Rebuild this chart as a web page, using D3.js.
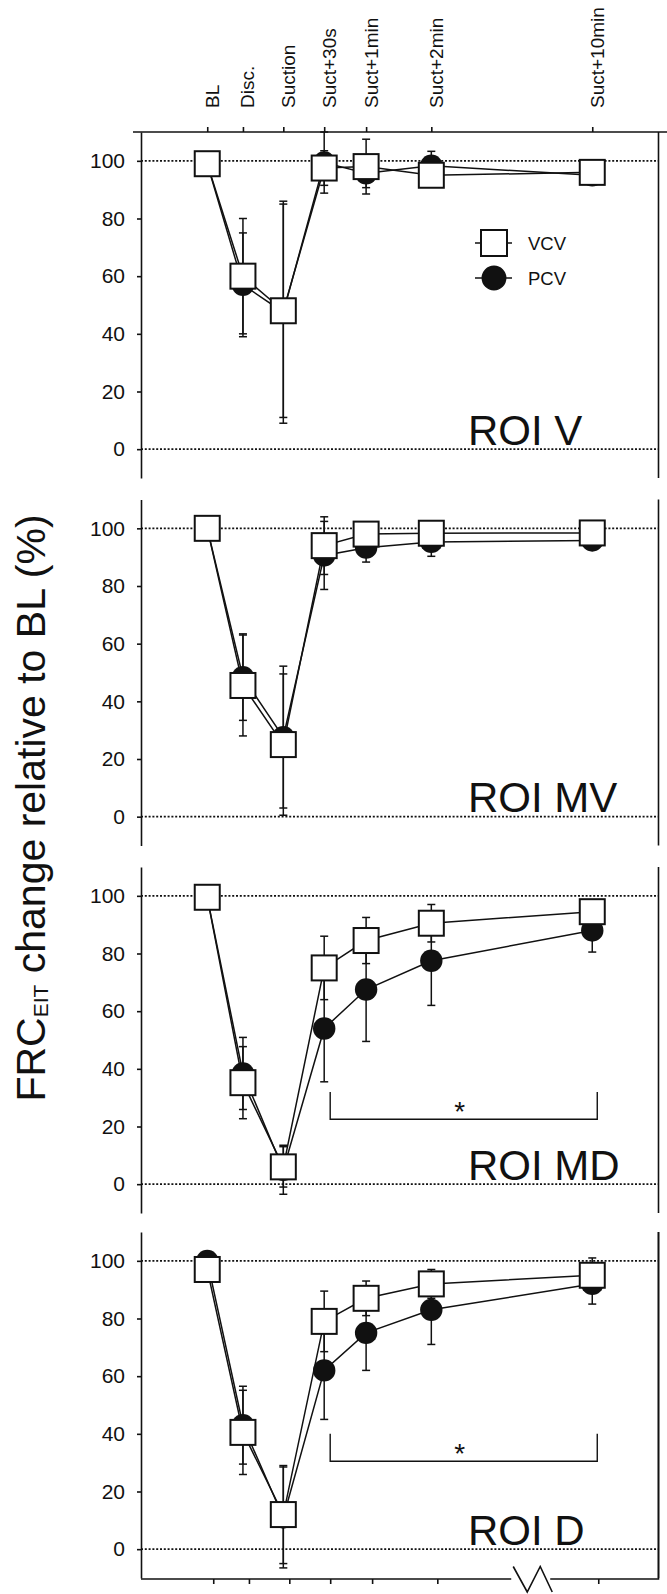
<!DOCTYPE html>
<html>
<head>
<meta charset="utf-8">
<script src="https://cdnjs.cloudflare.com/ajax/libs/d3/7.8.5/d3.min.js"></script>
<style>
  body { margin: 0; background: #fff; }
  svg { display: block; font-family: "Liberation Sans", Arial, Helvetica, sans-serif; }
</style>
</head>
<body>
<svg id="chart"></svg>
<script>
const categories = ["BL", "Disc.", "Suction", "Suct+30s", "Suct+1min", "Suct+2min", "Suct+10min"];
// time axis is broken, so each category sits at its own slot value
const xSlots = [12.8, 19.7, 27.5, 35.4, 43.5, 56.1, 87.2];
const yTicks = [0, 20, 40, 60, 80, 100];
const regions = ["ROI V", "ROI MV", "ROI MD", "ROI D"];

const vcvMean = [
    [99, 60, 48, 97.5, 98, 95, 96],
    [100, 45.5, 25, 94, 98, 98.3, 98.4],
    [99.5, 35.2, 6, 75, 84.5, 90.5, 94.5],
    [97, 40.5, 12, 79, 87, 92, 95]
];
const vcvSd = [
    [0, 20, 37, 6, 9.5, 3, 2],
    [0, 17.5, 24.5, 10, 4, 3, 2],
    [0, 12.5, 7, 11, 8, 6.5, 3],
    [0, 14.6, 17, 10.5, 6, 5, 6]
];
const pcvMean = [
    [99, 57, 47.5, 99.4, 95.7, 98.3, 95],
    [100, 48.4, 27.6, 90.6, 93.3, 95.3, 95.8],
    [99.5, 38.4, 5, 54, 67.5, 77.5, 88],
    [100, 43, 11, 62, 75, 83, 92]
];
const pcvSd = [
    [0, 18, 38.5, 10.6, 5, 5, 2],
    [0, 15, 24.6, 11.8, 5, 5, 2],
    [0, 12.5, 8.5, 18.5, 18, 15.5, 7.5],
    [0, 13.5, 17.5, 17, 13, 12, 7]
];
// significance brackets: [from category, to category, top value, bottom value]
const brackets = [null, null, [3, 6, 32, 22.5], [3, 6, 40, 30.5]];

const width = 667;
const height = 1594;
const panelTops = [132, 499.5, 867, 1232];
const panelHeight = 346;
const ink = "#111";

const svg = d3.select("#chart")
    .attr("width", width)
    .attr("height", height);

svg.append("rect").attr("width", width).attr("height", height).attr("fill", "#fff");

const xScale = d3.scaleLinear()
    .domain([0, 100])
    .range([141, 658.5]);

const styleAxis = sel => {
    sel.attr("font-family", null).attr("font-size", 21);
    sel.selectAll("path, line").attr("stroke", ink).attr("stroke-width", 1.6);
    sel.selectAll("text").attr("fill", ink);
};

regions.forEach((name, p) => {
    const top = panelTops[p];
    const yScale = d3.scaleLinear()
        .domain([-10, 110])
        .range([top + panelHeight, top]);
    const g = svg.append("g");

    g.selectAll(".ref")
        .data([0, 100])
        .enter()
        .append("line")
        .attr("x1", xScale(0))
        .attr("x2", xScale(100))
        .attr("y1", d => yScale(d))
        .attr("y2", d => yScale(d))
        .attr("stroke", ink)
        .attr("stroke-width", 1.6)
        .attr("stroke-dasharray", "2,1.8");

    g.append("g")
        .attr("transform", `translate(${xScale(0)},0)`)
        .call(d3.axisLeft(yScale).tickValues(yTicks).tickSize(4).tickSizeOuter(0).tickPadding(12))
        .call(styleAxis);

    g.append("line")
        .attr("x1", xScale(100)).attr("x2", xScale(100))
        .attr("y1", yScale(110)).attr("y2", yScale(-10))
        .attr("stroke", ink)
        .attr("stroke-width", 1.6);

    const series = [
        { key: "PCV", mean: pcvMean[p], sd: pcvSd[p] },
        { key: "VCV", mean: vcvMean[p], sd: vcvSd[p] }
    ];

    const line = d3.line()
        .x((d, i) => xScale(xSlots[i]))
        .y(d => yScale(d));

    g.selectAll(".trend")
        .data(series)
        .enter()
        .append("path")
        .attr("d", s => line(s.mean))
        .attr("fill", "none")
        .attr("stroke", ink)
        .attr("stroke-width", 1.5);

    const bars = series.flatMap(s => s.mean.map((m, i) => ({ x: xSlots[i], lo: m - s.sd[i], hi: m + s.sd[i] })))
        .filter(d => d.hi > d.lo);

    const eb = g.selectAll(".eb")
        .data(bars)
        .enter()
        .append("g")
        .attr("stroke", ink)
        .attr("stroke-width", 1.5);
    eb.append("line")
        .attr("x1", d => xScale(d.x)).attr("x2", d => xScale(d.x))
        .attr("y1", d => yScale(d.lo)).attr("y2", d => yScale(d.hi));
    eb.selectAll(".cap")
        .data(d => [d.lo, d.hi].map(v => ({ x: d.x, v: v })))
        .enter()
        .append("line")
        .attr("x1", d => xScale(d.x) - 4).attr("x2", d => xScale(d.x) + 4)
        .attr("y1", d => yScale(d.v)).attr("y2", d => yScale(d.v));

    g.selectAll(".pcv")
        .data(pcvMean[p])
        .enter()
        .append("circle")
        .attr("cx", (d, i) => xScale(xSlots[i]))
        .attr("cy", d => yScale(d))
        .attr("r", 11.2)
        .attr("fill", ink);

    g.selectAll(".vcv")
        .data(vcvMean[p])
        .enter()
        .append("rect")
        .attr("x", (d, i) => xScale(xSlots[i]) - 12.5)
        .attr("y", d => yScale(d) - 12.5)
        .attr("width", 25)
        .attr("height", 25)
        .attr("fill", "#fff")
        .attr("stroke", ink)
        .attr("stroke-width", 2);

    g.append("text")
        .attr("x", 468)
        .attr("y", yScale(0) - 4.5)
        .attr("font-size", 42)
        .attr("fill", ink)
        .text(name);

    const br = brackets[p];
    if (br) {
        const x0 = xScale(xSlots[br[0]]) + 6;
        const x1 = xScale(xSlots[br[1]]) + 5;
        g.append("path")
            .attr("d", `M${x0},${yScale(br[2])}V${yScale(br[3])}H${x1}V${yScale(br[2])}`)
            .attr("fill", "none")
            .attr("stroke", ink)
            .attr("stroke-width", 1.4);
        g.append("text")
            .attr("x", (x0 + x1) / 2 - 4)
            .attr("y", yScale((br[2] + br[3]) / 2) + 15)
            .attr("text-anchor", "middle")
            .attr("font-size", 28)
            .attr("fill", ink)
            .text("*");
    }

    if (p === 0) {
        const topAxis = g.append("g")
            .attr("transform", `translate(0,${top})`)
            .call(d3.axisTop(xScale).tickValues(xSlots).tickFormat((d, i) => categories[i]).tickSize(5).tickSizeOuter(0))
            .call(styleAxis);
        topAxis.select(".domain").remove();
        topAxis.selectAll("text")
            .attr("x", 0)
            .attr("y", 0)
            .attr("dy", null)
            .attr("font-size", 19)
            .attr("text-anchor", "start")
            .attr("transform", `translate(11,${108 - top}) rotate(-90)`);
        g.append("line")
            .attr("x1", 133).attr("x2", width)
            .attr("y1", top).attr("y2", top)
            .attr("stroke", ink)
            .attr("stroke-width", 1.6);

        const legend = g.append("g").attr("stroke", ink).attr("stroke-width", 1.5);
        [243, 278].forEach(ly => {
            legend.append("line").attr("x1", 475).attr("x2", 512).attr("y1", ly).attr("y2", ly);
        });
        legend.append("rect")
            .attr("x", 481).attr("y", 230).attr("width", 26).attr("height", 26)
            .attr("fill", "#fff").attr("stroke-width", 2);
        legend.append("circle")
            .attr("cx", 494).attr("cy", 278).attr("r", 11.7)
            .attr("fill", ink);
        g.selectAll(".legtext")
            .data([["VCV", 243], ["PCV", 278]])
            .enter()
            .append("text")
            .attr("x", 528)
            .attr("y", d => d[1] + 6.5)
            .attr("font-size", 18.5)
            .attr("fill", ink)
            .text(d => d[0]);
    }

    if (p === regions.length - 1) {
        const yb = top + panelHeight + 1;
        const bottomAxis = g.append("g")
            .attr("transform", `translate(6,${yb})`)
            .call(d3.axisBottom(xScale).tickValues(xSlots).tickFormat("").tickSize(5).tickSizeOuter(0))
            .call(styleAxis);
        bottomAxis.select(".domain").remove();
        const bx = xScale(75.6);
        g.append("path")
            .attr("d", `M${xScale(0)},${yb}H${bx - 21}` +
                `M${bx - 19},${yb - 12.5}L${bx - 5},${yb + 13}L${bx + 8},${yb - 12.5}L${bx + 20},${yb + 13}` +
                `M${bx + 18},${yb}H${xScale(100)}V${top}`)
            .attr("fill", "none")
            .attr("stroke", ink)
            .attr("stroke-width", 1.6);
    }
});

const title = svg.append("text")
    .attr("transform", "translate(45,808) rotate(-90)")
    .attr("text-anchor", "middle")
    .attr("font-size", 41)
    .attr("fill", ink);
title.append("tspan").text("FRC");
title.append("tspan").attr("font-size", 21).attr("dy", 3).text("EIT");
title.append("tspan").attr("dy", -3).text(" change relative to BL (%)");
</script>
</body>
</html>
